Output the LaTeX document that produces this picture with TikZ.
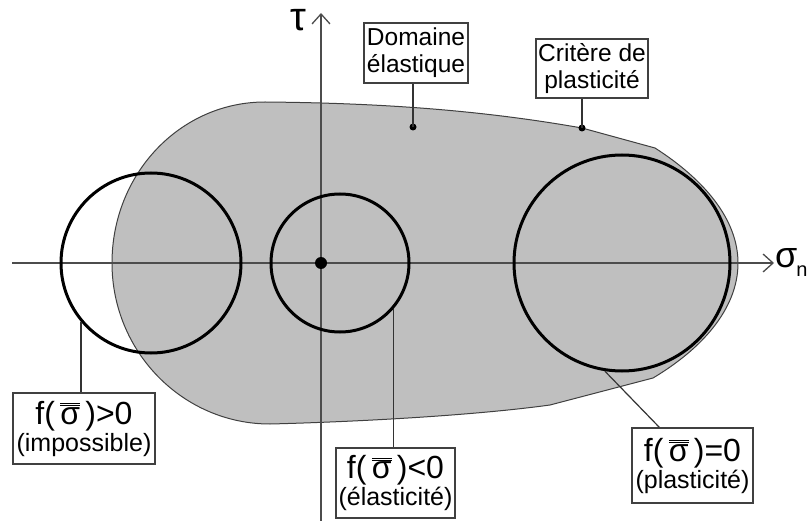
\documentclass[tikz,border=0pt]{standalone}
\usepackage{fontspec}
\setmainfont{Liberation Sans}
\usetikzlibrary{arrows.meta}
\newcommand{\sigbar}{$\overline{\overline{\hbox{σ}}}$}
\newcommand{\grandfs}{\fontsize{32}{32}\selectfont}
\newcommand{\petitfs}{\fontsize{25}{27}\selectfont}
\newcommand{\boitefs}{\fontsize{24.5}{27}\selectfont}

\begin{document}
\begin{tikzpicture}[x=1pt,y=-1pt]
\tikzstyle{every node}=[inner sep=0pt]
\tikzstyle{boite}=[draw=black!75,line width=1.3pt,fill=white,align=center]
\tikzstyle{cercle}=[draw,circle,line width=3pt]
\tikzstyle{axe}=[draw=black!70,line width=1.3pt,-{Straight Barb[length=10pt,width=18pt]}]
\tikzstyle{renvoi}=[draw=black!80,line width=1.2pt]
\useasboundingbox (0,0) rectangle (808,521);
\filldraw[fill=black!25,draw=black!75,line width=1pt] (112,263)
  .. controls (112,174) and (180,102) .. (265,102)
  .. controls (380,103) and (480,110) .. (582,128) -- (655,148)
  .. controls (705,180) and (738,220) .. (738,263)
  .. controls (738,310) and (700,350) .. (653,378) -- (550,405)
  .. controls (470,416) and (350,422) .. (270,424)
  .. controls (183,424) and (112,352) .. (112,263) -- cycle;
\coordinate (xmin) at (12,263);
\coordinate (xmax) at (774,263);
\coordinate (ymin) at (321,521);
\coordinate (ymax) at (321,13);
\draw[axe] (xmin) -- (xmax);
\draw[axe] (ymin) -- (ymax);
\node (tau) at (298,20) {\fontsize{40}{40}\selectfont τ};
\node[anchor=west] (sigman) at (775,262) {\fontsize{36}{36}\selectfont σ\kern-1pt\raisebox{-9pt}{\fontsize{20}{20}\selectfont n}};
\node[cercle,minimum size=180] (gauche) at (151,263) {};
\node[cercle,minimum size=138] (milieu) at (340,263) {};
\node[cercle,minimum size=216] (droite) at (622,263) {};
\node[circle,fill,minimum size=12] (origine) at (321,263) {};
\coordinate (pde) at (413,127);
\coordinate (pcp) at (582,128);
\fill (pde) circle[radius=3.5];
\fill (pcp) circle[radius=3.5];
\node[boite,font=\boitefs,minimum width=104,minimum height=60] (domaine) at (416,53) {Domaine\\élastique};
\node[boite,font=\boitefs,minimum width=112,minimum height=59] (critere) at (592,68.5) {Critère de\\plasticité};
\node[boite,font=\petitfs,minimum width=142,minimum height=71] (impossible) at (84,428.5) {{\grandfs f(\,\sigbar\,)>0}\\(impossible)};
\node[boite,font=\petitfs,minimum width=119,minimum height=70] (elasticite) at (395.5,483) {{\grandfs f(\,\sigbar\,)<0}\\(élasticité)};
\node[boite,font=\petitfs,minimum width=121,minimum height=75] (plasticite) at (692.5,465.5) {{\grandfs f(\,\sigbar\,)=0}\\(plasticité)};
\draw[renvoi] (pde) -- (pde |- domaine.south);
\draw[renvoi] (pcp) -- (pcp |- critere.south);
\draw[renvoi] (gauche.220) -- (gauche.220 |- impossible.north);
\draw[renvoi] (milieu.-41) -- (milieu.-41 |- elasticite.north);
\draw[renvoi] (droite.261) -- ([xshift=28pt]plasticite.north west);
\end{tikzpicture}
\end{document}
